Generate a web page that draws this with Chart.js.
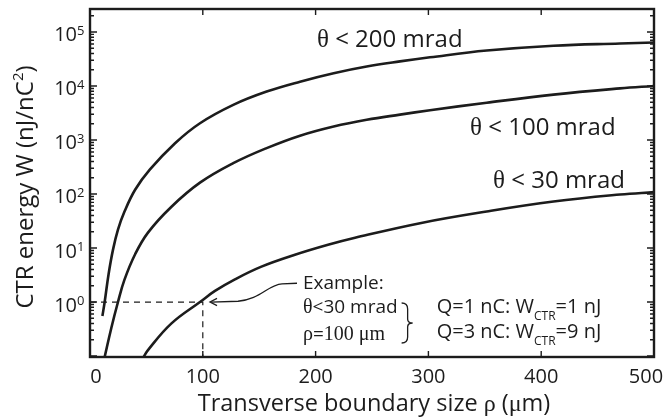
<!DOCTYPE html>
<html>
<head>
<meta charset="utf-8">
<script src="https://cdn.jsdelivr.net/npm/chart.js@4.4.1/dist/chart.umd.min.js"></script>
<style>
  html,body{margin:0;padding:0;background:#fff}
  #wrap{width:665px;height:417px}
</style>
</head>
<body>
<div id="wrap"><canvas id="c" width="665" height="417"></canvas></div>
<script>
/* values: rho in um, W in nJ/nC^2 */
const RHO_200 = [11, 13, 16.5, 20.4, 24.8, 30.5, 40, 53, 75.4, 97.5, 127, 156.6, 186.2, 216, 245.3, 274.8, 301.4, 351.7, 410.9, 469.9, 500];
const W_200   = [0.55, 1, 3.31, 9.33, 21.9, 46.8, 120, 282, 871, 2042, 4467, 7870, 12020, 17220, 22900, 28500, 33900, 45200, 55600, 61200, 63800];

const RHO_100 = [13, 18.9, 24.8, 30.5, 40, 51.4, 72, 97.5, 127, 156.6, 186.2, 216, 245.3, 274.8, 301.4, 351.7, 410.9, 469.9, 500];
const W_100   = [0.096, 0.331, 1, 2.57, 7.67, 19.3, 57.5, 162, 372, 708, 1202, 1778, 2371, 2951, 3548, 4898, 6918, 9016, 10000];

const RHO_30  = [47.5, 51.4, 72, 97.5, 110.8, 128.5, 152, 181.7, 211, 235, 292.6, 351.7, 410.9, 469.9, 500];
const W_30    = [0.096, 0.129, 0.398, 1.0, 1.603, 2.63, 4.52, 7.5, 11.48, 15.49, 28.84, 47.4, 72.4, 97.7, 108.4];

// dashed guide for the worked example (rho = 100 um, W = 1)
const GUIDE_RHO = [0, 100, 100];
const GUIDE_W   = [1, 1, 0.096];

const X_TICKS = [0, 100, 200, 300, 400, 500];
const Y_EXP   = [0, 1, 2, 3, 4, 5];          // labels 10^n
const Y_MIN = 0.096, Y_MAX = 2.66e5;

const SANS  = '"Open Sans", "Noto Sans", sans-serif';
const SERIF = '"Liberation Serif", "DejaVu Serif", serif';
const INK = '#1c1c1c';

const pts = (xs, ys) => xs.map((x, i) => ({x, y: ys[i]}));

// text made of pieces [str, font, dy]; returns width, draws if draw=true
function runs(ctx, x, y, parts, draw = true){
  let w = 0;
  parts.forEach(([t, f, dy]) => {
    ctx.font = f;
    if(draw) ctx.fillText(t, x + w, y + (dy || 0));
    w += ctx.measureText(t).width;
  });
  return w;
}

const frame = {
  id: 'frame',
  afterDraw(chart){
    const {ctx, chartArea: a, scales: {x, y}} = chart;
    const P = (vx, vy) => [x.getPixelForValue(vx), y.getPixelForValue(vy)];
    ctx.save();
    ctx.strokeStyle = INK; ctx.fillStyle = INK;

    // inward ticks, all four sides
    ctx.lineWidth = 1.4;
    ctx.beginPath();
    X_TICKS.slice(1, -1).forEach(v => {
      const px = x.getPixelForValue(v);
      ctx.moveTo(px, a.bottom); ctx.lineTo(px, a.bottom - 6);
      ctx.moveTo(px, a.top);    ctx.lineTo(px, a.top + 6);
    });
    for(let n = -2; n <= 5; n++) for(let k = 1; k < 10; k++){
      const v = k * Math.pow(10, n);
      if(v < Y_MIN || v > Y_MAX) continue;
      const py = y.getPixelForValue(v), L = k === 1 ? 7 : 4;
      ctx.moveTo(a.left, py);  ctx.lineTo(a.left + L, py);
      ctx.moveTo(a.right, py); ctx.lineTo(a.right - L, py);
    }
    ctx.stroke();

    ctx.lineWidth = 2.4;
    ctx.strokeRect(a.left, a.top, a.right - a.left, a.bottom - a.top);

    // x tick labels
    ctx.font = '20px ' + SANS; ctx.textAlign = 'center'; ctx.textBaseline = 'alphabetic';
    X_TICKS.forEach((v, i) => {
      let px = x.getPixelForValue(v);
      if(i === 0) px += 6;
      if(i === X_TICKS.length - 1) px -= 8;
      ctx.fillText(String(v), px, a.bottom + 26);
    });

    // y tick labels 10^n
    Y_EXP.forEach(n => {
      const py = y.getPixelForValue(Math.pow(10, n));
      ctx.textAlign = 'right'; ctx.font = '20px ' + SANS;
      ctx.fillText('10', a.left - 13, py + 9.5);
      ctx.textAlign = 'left'; ctx.font = '13px ' + SANS;
      ctx.fillText(String(n), a.left - 13, py + 3);
    });
    ctx.textAlign = 'left';

    // axis titles
    const xt = [['Transverse boundary size ', '23.5px ' + SANS], ['\u03c1', '24px ' + SERIF],
                [' (', '23.5px ' + SANS], ['\u03bc', '24px ' + SERIF], ['m)', '23.5px ' + SANS]];
    const xw = runs(ctx, 0, 0, xt, false);
    runs(ctx, (a.left + a.right) / 2 + 2 - xw / 2, 411, xt);

    const yt = [['CTR energy W (nJ/nC', '24px ' + SANS], ['2', '15px ' + SANS, -10], [')', '24px ' + SANS]];
    const yw = runs(ctx, 0, 0, yt, false);
    ctx.save();
    ctx.translate(33, (a.top + a.bottom) / 2 + 4);
    ctx.rotate(-Math.PI / 2);
    runs(ctx, -yw / 2, 0, yt);
    ctx.restore();

    // curve labels
    const th = s => [['\u03b8', '25px ' + SERIF], [s, '24px ' + SANS]];
    let [lx, ly] = P(201.2, 52800);  runs(ctx, lx, ly, th(' < 200 mrad'));
    [lx, ly] = P(336.9, 1244);       runs(ctx, lx, ly, th(' < 100 mrad'));
    [lx, ly] = P(357.3, 130);        runs(ctx, lx, ly, th(' < 30 mrad'));

    // worked example text
    const f = '19px ' + SANS, fs = '20px ' + SERIF;
    const [ex, ey] = P(188.8, 1.74);
    runs(ctx, ex, ey, [['Example:', f]]);
    runs(ctx, ex, ey + 24.2, [['\u03b8', fs], ['<30 mrad', f]]);
    runs(ctx, ex, ey + 50.7, [['\u03c1', fs], ['=', f], ['100 \u03bcm', fs]]);

    const [qx, qy] = P(307.3, 0.626);
    const fq = '20px ' + SANS, sub = '12px ' + SANS;
    runs(ctx, qx, qy, [['Q=1 nC: W', fq], ['CTR', sub, 7], ['=1 nJ', fq]]);
    runs(ctx, qx, qy + 25, [['Q=3 nC: W', fq], ['CTR', sub, 7], ['=9 nJ', fq]]);

    // brace
    const bx = qx - 29, by = qy + 10;
    ctx.lineWidth = 1.3;
    ctx.beginPath();
    ctx.moveTo(bx - 6, by - 20);
    ctx.quadraticCurveTo(bx, by - 20, bx, by - 14);
    ctx.lineTo(bx, by - 4);
    ctx.quadraticCurveTo(bx, by, bx + 5, by);
    ctx.quadraticCurveTo(bx, by, bx, by + 4);
    ctx.lineTo(bx, by + 14);
    ctx.quadraticCurveTo(bx, by + 20, bx - 6, by + 20);
    ctx.stroke();

    // curved arrow pointing at the rho = 100 um point
    const [tx, ty] = P(106.4, 1);
    ctx.lineWidth = 1.3;
    ctx.beginPath();
    ctx.moveTo(tx + 87, ty - 18.8);
    ctx.lineTo(tx + 72, ty - 18.1);
    ctx.bezierCurveTo(tx + 58, ty - 17.3, tx + 50, ty - 2.3, tx + 28, ty - 0.8);
    ctx.lineTo(tx + 1, ty);
    ctx.stroke();
    ctx.beginPath();
    ctx.moveTo(tx + 7, ty - 3.6); ctx.lineTo(tx, ty); ctx.lineTo(tx + 7, ty + 3.6);
    ctx.stroke();

    ctx.restore();
  }
};

const curve = {
  borderColor: INK, borderWidth: 2.6, pointRadius: 0,
  tension: 0.4, fill: false
};

new Chart(document.getElementById('c'), {
  type: 'line',
  data: {
    datasets: [
      {label: '\u03b8 < 200 mrad', data: pts(RHO_200, W_200), ...curve},
      {label: '\u03b8 < 100 mrad', data: pts(RHO_100, W_100), ...curve},
      {label: '\u03b8 < 30 mrad',  data: pts(RHO_30, W_30), ...curve},
      {label: 'example', data: pts(GUIDE_RHO, GUIDE_W), borderColor: INK, borderWidth: 1.2,
       borderDash: [6, 5], pointRadius: 0, tension: 0, fill: false}
    ]
  },
  options: {
    responsive: false, animation: false, devicePixelRatio: 1,
    layout: {padding: {left: 90, top: 9, right: 11, bottom: 60}},
    plugins: {legend: {display: false}, tooltip: {enabled: false}},
    scales: {
      x: {type: 'linear', min: 0, max: 500, display: false},
      y: {type: 'logarithmic', min: Y_MIN, max: Y_MAX, display: false}
    }
  },
  plugins: [frame]
});
</script>
</body>
</html>
